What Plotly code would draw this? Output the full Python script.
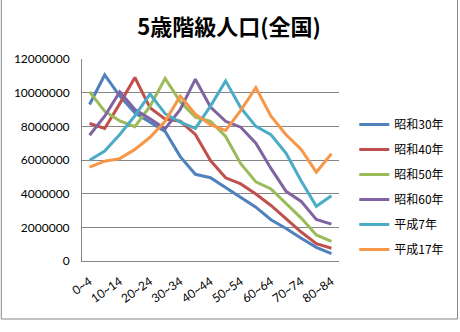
import plotly.graph_objects as go

categories = ["0~4", "5~9", "10~14", "15~19", "20~24", "25~29", "30~34", "35~39",
              "40~44", "45~49", "50~54", "55~59", "60~64", "65~69", "70~74", "75~79", "80~84"]
tick_labels = ["0~4", "10~14", "20~24", "30~34", "40~44", "50~54", "60~64", "70~74", "80~84"]

showa30 = [9300000, 11050000, 9800000, 8800000, 8250000, 7700000, 6200000, 5150000, 4950000,
           4350000, 3800000, 3200000, 2450000, 1930000, 1350000, 810000, 440000]
showa40 = [8170000, 7870000, 9350000, 10900000, 9100000, 8430000, 8300000, 7520000, 5970000,
           4940000, 4580000, 3980000, 3300000, 2500000, 1720000, 1030000, 760000]
showa50 = [10050000, 8900000, 8320000, 7980000, 9200000, 10850000, 9450000, 8550000, 8300000,
           7400000, 5780000, 4700000, 4280000, 3440000, 2550000, 1550000, 1170000]
showa60 = [7470000, 8600000, 10050000, 9000000, 8450000, 7860000, 9000000, 10800000, 9150000,
           8300000, 7950000, 7000000, 5500000, 4140000, 3540000, 2470000, 2190000]
heisei7 = [5990000, 6530000, 7520000, 8630000, 9920000, 8750000, 8250000, 7880000, 9200000,
           10700000, 9100000, 8000000, 7500000, 6400000, 4750000, 3250000, 3880000]
heisei17 = [5580000, 5930000, 6080000, 6630000, 7350000, 8300000, 9800000, 8720000, 8100000,
            7750000, 8950000, 10300000, 8600000, 7500000, 6630000, 5280000, 6370000]

series_names = ["昭和30年", "昭和40年", "昭和50年", "昭和60年", "平成7年", "平成17年"]
series_values = [showa30, showa40, showa50, showa60, heisei7, heisei17]
colors = ["#4F81BD", "#C0504D", "#9BBB59", "#8064A2", "#4BACC6", "#F79646"]

fig = go.Figure()
for name, vals, col in zip(series_names, series_values, colors):
    fig.add_trace(go.Scatter(x=categories, y=vals, mode="lines", name=name,
                             legendgroup=name,
                             line=dict(color=col, width=3)))

L, R, T, B = 82, 120, 59, 71
W, H = 460, 332
pw, ph = W - L - R, H - T - B

fig.update_layout(
    width=W, height=H,
    margin=dict(l=L, r=R, t=T, b=B),
    paper_bgcolor="white", plot_bgcolor="white",
    font=dict(family="Noto Sans CJK JP", size=12, color="#000000"),
    title=dict(text="<b>5歳階級人口(全国)</b>", x=229 / W, xref="container", xanchor="center",
               y=1 - 27 / H, yref="container", yanchor="middle",
               font=dict(family="Noto Sans CJK JP", size=22, color="#000000")),
    showlegend=True,
    legend=dict(x=(362 - L) / pw - 0.03, xanchor="left", y=(261 - 187) / ph, yanchor="middle",
                font=dict(family="Noto Sans CJK JP", size=12),
                tracegroupgap=6, itemwidth=30, bgcolor="rgba(0,0,0,0)"),
    xaxis=dict(type="category", range=[-0.5, 16.5], tickmode="array",
               tickvals=tick_labels, ticktext=tick_labels, tickangle=-35,
               showgrid=False, showline=True, linecolor="#868686", linewidth=1,
               ticks="", ticklabelstandoff=8, tickfont=dict(family="Lato", size=12)),
    yaxis=dict(range=[0, 12000000], dtick=2000000, tickformat="d",
               showgrid=True, gridcolor="#868686", gridwidth=1,
               showline=True, linecolor="#868686", linewidth=1, zeroline=False,
               ticks="", ticklabelstandoff=9,
               tickfont=dict(family="Lato", size=12)),
    shapes=[dict(type="rect", xref="paper", yref="paper",
                 x0=(1 - L) / pw, x1=(W - 1 - L) / pw,
                 y0=(H - T - (H - 1)) / ph, y1=(H - T - 1) / ph,
                 line=dict(color="#868686", width=1), fillcolor="rgba(0,0,0,0)")],
)

fig.write_html("out.html")
